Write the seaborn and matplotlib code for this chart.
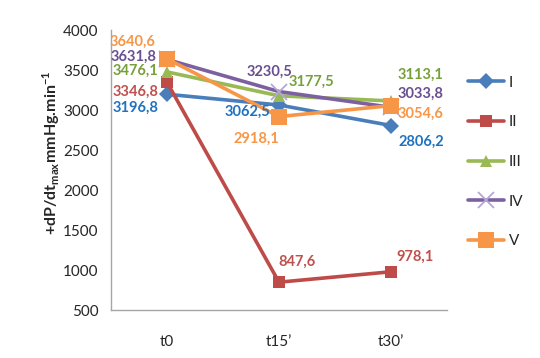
import matplotlib
matplotlib.use("Agg")
import matplotlib.pyplot as plt
import seaborn as sns
import pandas as pd
from matplotlib.lines import Line2D

times = ["t0", "t15\u2019", "t30\u2019"]
series_names = ["I", "II", "III", "IV", "V"]
vals_I = [3196.8, 3062.5, 2806.2]
vals_II = [3346.8, 847.6, 978.1]
vals_III = [3476.1, 3177.5, 3113.1]
vals_IV = [3631.8, 3230.5, 3033.8]
vals_V = [3640.6, 2918.1, 3054.6]
all_vals = [vals_I, vals_II, vals_III, vals_IV, vals_V]

line_colors = ["#4A7EBB", "#BE4B48", "#98B954", "#7D60A0", "#F79646"]
label_colors = ["#1F72C0", "#C0504D", "#77A03A", "#6A4E91", "#F79646"]
markers = ["D", "s", "^", "x", "s"]
msizes = [8, 9, 9, 11, 11]

# offsets (points) for data labels: per series per time
offsets = [
    [(-23, -10), (-23, -5), (22, -12)],
    [(-23, -7), (13, 15), (17, 11)],
    [(-23, 1), (23, 10), (21, 19)],
    [(-24, 2), (-7, 14), (21, 10)],
    [(-25, 12), (-16, -16), (21, -6)],
]

sns.set_style("white")
plt.rcParams["font.family"] = ["Lato", "DejaVu Sans"]
plt.rcParams["mathtext.fontset"] = "custom"
plt.rcParams["mathtext.bf"] = "Lato:bold"
plt.rcParams["mathtext.rm"] = "Lato"

fig = plt.figure(figsize=(5.4, 3.58), dpi=100)
ax = fig.add_axes([111 / 540, 1 - 310 / 358, (447 - 111) / 540, (310 - 30) / 358])

for name, vals, c, m, ms in zip(series_names, all_vals, line_colors, markers, msizes):
    d = pd.DataFrame({"time": times, "value": vals})
    kw = dict(markeredgewidth=0)
    if m == "x":
        kw = dict(markeredgewidth=1.3, markeredgecolor="#B4A7D6")
    sns.lineplot(data=d, x="time", y="value", color=c, marker=m, markersize=ms,
                 linewidth=2.6, ax=ax, sort=False, **kw)

for i, (name, vals) in enumerate(zip(series_names, all_vals)):
    for j, v in enumerate(vals):
        ax.annotate(f"{v:.1f}".replace(".", ","), (j, v),
                    xytext=offsets[i][j], textcoords="offset points",
                    ha="center", va="center", fontsize=10.5, fontweight="bold",
                    color=label_colors[i])

ax.set_xlim(-0.5, 2.5)
ax.set_ylim(500, 4000)
ax.set_yticks(range(500, 4001, 500))
ax.set_xlabel("")
ax.set_ylabel("+dP/dt$_{\\mathbf{max}}$mmHg.min$^{\\mathbf{-1}}$", fontsize=11.5,
              fontweight="bold")
ax.yaxis.set_label_coords(-0.145, 0.56)
ax.tick_params(axis="both", labelsize=11, length=0)
ax.tick_params(axis="y", pad=9)
ax.tick_params(axis="x", pad=18)
for s in ["top", "right"]:
    ax.spines[s].set_visible(False)
for s in ["left", "bottom"]:
    ax.spines[s].set_color("#A6A6A6")
    ax.spines[s].set_linewidth(1)

handles = []
for c, m, ms in zip(line_colors, markers, msizes):
    if m == "x":
        h = Line2D([], [], color=c, marker=m, markersize=ms, linewidth=2.6,
                   markeredgewidth=1.3, markeredgecolor="#B4A7D6")
    else:
        h = Line2D([], [], color=c, marker=m, markersize=ms, linewidth=2.6,
                   markeredgewidth=0)
    handles.append(h)
fig.legend(handles, series_names, loc="upper left",
           bbox_to_anchor=(454 / 540, 1 - 62 / 358), frameon=False,
           fontsize=11, labelspacing=1.68, handlelength=2.4, handletextpad=0.3)

fig.savefig("out.png", dpi=100)
